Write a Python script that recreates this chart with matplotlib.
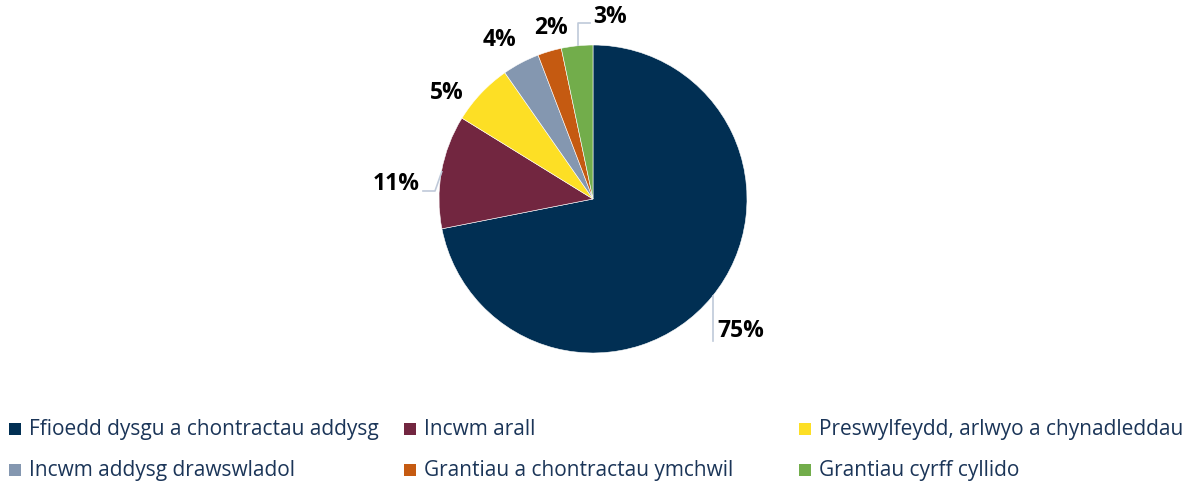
import matplotlib
matplotlib.use("Agg")
import matplotlib.pyplot as plt
from matplotlib.patches import Rectangle

# slice sizes as drawn (angles) and the printed labels
categories = [
    "Ffioedd dysgu a chontractau addysg",
    "Incwm arall",
    "Preswylfeydd, arlwyo a chynadleddau",
    "Incwm addysg drawswladol",
    "Grantiau a chontractau ymchwil",
    "Grantiau cyrff cyllido",
]
shares = [71.9, 11.9, 6.5, 3.9, 2.5, 3.3]
pct_labels = ["75%", "11%", "5%", "4%", "2%", "3%"]

colors = ["#012F53", "#722640", "#FDDF25", "#8497B0", "#C55A11", "#72AD4B"]
text_col = "#1B3558"
leader_col = "#BFC9D9"

W, H = 1194, 488
fig = plt.figure(figsize=(W / 100, H / 100), dpi=100)

# pie centre (593, 199) px, radius 154 px
cx, cy, r = 593, 199, 154
ax = fig.add_axes([(cx - r) / W, (H - cy - r) / H, 2 * r / W, 2 * r / H])
ax.pie(shares, colors=colors, startangle=90, counterclock=False, radius=1,
       wedgeprops=dict(edgecolor="white", linewidth=0.4))
ax.set_xlim(-1, 1)
ax.set_ylim(-1, 1)
ax.set_aspect("equal")
ax.axis("off")

# label positions (data units, radius = 1)
label_pos = [(0.96, -0.86), (-1.28, 0.10), (-0.95, 0.69), (-0.61, 1.03),
             (-0.27, 1.11), (0.11, 1.18)]
for txt, (x, y) in zip(pct_labels, label_pos):
    ax.text(x, y, txt, ha="center", va="center", fontsize=16.5,
            fontweight="bold", family="Open Sans", color="black")

# leader lines
leaders = [
    ([0.779, 0.779], [-0.63, -0.92]),
    ([-1.104, -1.026, -0.982], [0.052, 0.052, 0.177]),
    ([-0.019, -0.097, -0.097], [1.143, 1.143, 1.0]),
]
for xs, ys in leaders:
    ax.plot(xs, ys, color=leader_col, lw=1.2, clip_on=False)

# legend, laid out on a grid like the original
for i, (lab, col) in enumerate(zip(categories, colors)):
    row, c = divmod(i, 3)
    x0 = 9 + c * 395
    base = 435 + row * 41
    fig.add_artist(Rectangle((x0 / W, (H - base) / H), 12 / W, 12 / H,
                             transform=fig.transFigure, facecolor=col,
                             edgecolor="none"))
    fig.text((x0 + 20) / W, (H - base) / H, lab, ha="left", va="baseline",
             fontsize=15, family="Open Sans", color=text_col)

fig.savefig("out.png", dpi=100)
